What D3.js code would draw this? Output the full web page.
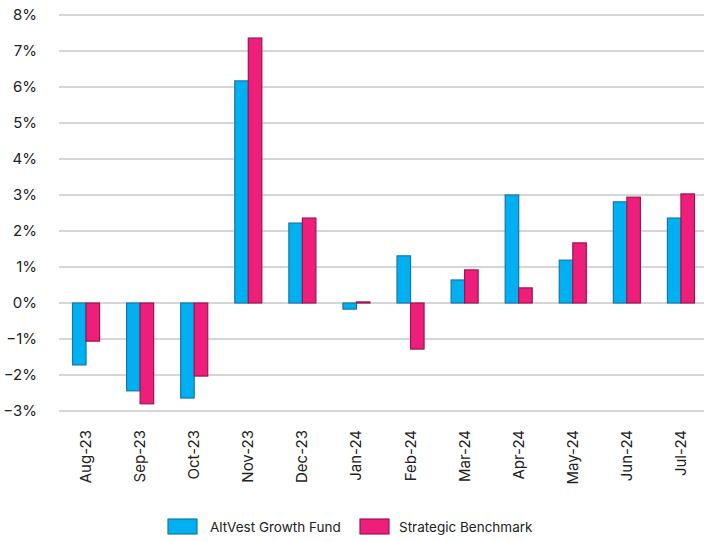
<!DOCTYPE html>
<html><head><meta charset="utf-8">
<script src="https://cdn.jsdelivr.net/npm/d3@7"></script>
<style>body{margin:0;background:#fff}svg text{font-family:Inter,"Noto Sans",sans-serif;fill:#222}</style>
</head><body><svg id="c" width="704" height="542"></svg>
<script>
const categories=["Aug-23","Sep-23","Oct-23","Nov-23","Dec-23","Jan-24","Feb-24","Mar-24","Apr-24","May-24","Jun-24","Jul-24"];
const fund=[-1.72,-2.44,-2.64,6.17,2.22,-0.17,1.31,0.64,3.0,1.19,2.81,2.36];
const bench=[-1.06,-2.8,-2.03,7.36,2.36,0.03,-1.28,0.92,0.42,1.67,2.94,3.03];
const seriesNames=["AltVest Growth Fund","Strategic Benchmark"];
const yTicks=[-3,-2,-1,0,1,2,3,4,5,6,7,8];

const svg=d3.select("#c");
const x=d3.scaleBand().domain(categories).range([59,708]);
const y=d3.scaleLinear().domain([-3,8]).range([411,15]);
const fills=["#00B0F0","#EE1F7A"], strokes=["#1577a8","#9c1552"];

svg.append("g").selectAll("line").data(yTicks).join("line")
 .attr("x1",59).attr("x2",704).attr("y1",d=>y(d)).attr("y2",d=>y(d))
 .attr("stroke","#c8c8c8").attr("stroke-width",1.5);
svg.append("g").selectAll("text").data(yTicks).join("text")
 .attr("x",37).attr("y",d=>y(d)).attr("dy","0.35em").attr("text-anchor","end")
 .attr("font-size",15).text(d=>(d<0?"\u2212"+Math.abs(d):d)+"%");

const bw=x.bandwidth()/4;
[fund,bench].forEach((vals,si)=>{
 svg.append("g").selectAll("rect").data(vals).join("rect")
  .attr("x",(d,i)=>x(categories[i])+x.bandwidth()/2-bw+si*bw)
  .attr("width",bw)
  .attr("y",d=>y(Math.max(0,d)))
  .attr("height",d=>Math.abs(y(d)-y(0)))
  .attr("fill",fills[si]).attr("stroke",strokes[si]).attr("stroke-width",1.2);
});

svg.append("g").selectAll("text").data(categories).join("text")
 .attr("transform",d=>`translate(${x(d)+x.bandwidth()/2+5},430) rotate(-90)`)
 .attr("text-anchor","end").attr("font-size",15).text(d=>d);

const leg=[{x:168,t:210},{x:360,t:399}];
seriesNames.forEach((n,i)=>{
 svg.append("rect").attr("x",leg[i].x).attr("y",519).attr("width",29).attr("height",15)
  .attr("fill",fills[i]).attr("stroke",strokes[i]).attr("stroke-width",1.2);
 svg.append("text").attr("x",leg[i].t).attr("y",527).attr("dy","0.35em").attr("font-size",13.5).text(n);
});
</script></body></html>
